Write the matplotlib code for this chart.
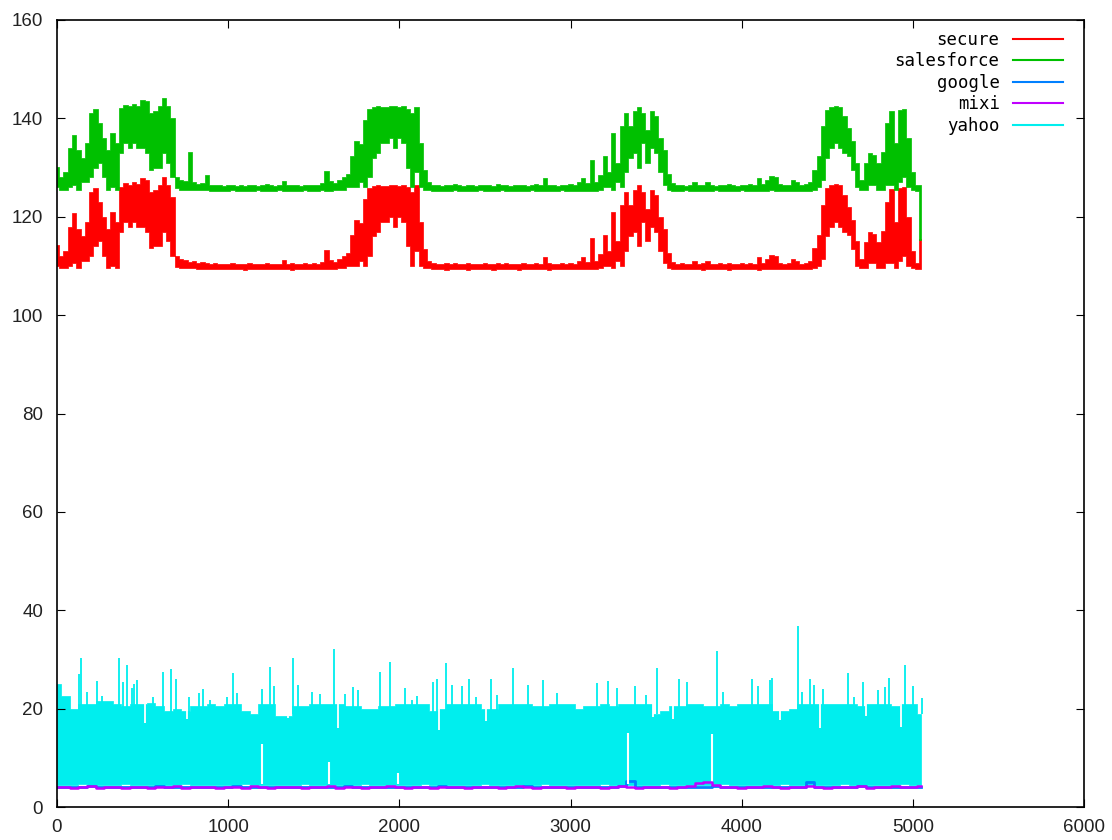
import numpy as np
import matplotlib
matplotlib.use('Agg')
import matplotlib.pyplot as plt
from matplotlib.lines import Line2D

# sample spacing (x units) of the envelopes
step_top = 25   # secure / salesforce
step_low = 50   # google / mixi / yahoo

# secure: lower and upper edge of the trace in each 25-wide slot
secure_lo = [
    110.0, 109.5, 109.5, 110.0, 110.5, 109.5, 111.0, 111.0, 112.0, 114.0,
    115.0, 112.0, 109.5, 110.0, 109.5, 117.0, 119.0, 118.0, 119.0, 118.0,
    118.0, 117.0, 113.6, 114.0, 114.0, 117.0, 115.0, 112.0, 109.8, 109.5,
    109.5, 109.5, 109.5, 109.4, 109.4, 109.4, 109.3, 109.3, 109.3, 109.3,
    109.3, 109.4, 109.3, 109.3, 109.2, 109.3, 109.3, 109.4, 109.3, 109.3,
    109.3, 109.3, 109.4, 109.3, 109.3, 109.2, 109.3, 109.3, 109.4, 109.3,
    109.3, 109.3, 109.4, 109.3, 109.3, 109.4, 109.5, 109.5, 110.0, 110.0,
    110.0, 111.0, 110.0, 112.0, 116.0, 117.0, 119.0, 119.0, 120.0, 118.0,
    120.0, 119.0, 114.0, 110.0, 113.0, 110.0, 109.5, 109.5, 109.3, 109.3,
    109.3, 109.2, 109.3, 109.4, 109.3, 109.3, 109.2, 109.3, 109.3, 109.4,
    109.3, 109.3, 109.2, 109.3, 109.4, 109.3, 109.3, 109.3, 109.2, 109.3,
    109.3, 109.4, 109.3, 109.3, 109.3, 109.2, 109.3, 109.3, 109.4, 109.3,
    109.3, 109.3, 109.3, 109.3, 109.3, 109.3, 109.3, 109.5, 110.0, 110.0,
    109.5, 111.0, 110.0, 113.0, 116.0, 117.0, 114.0, 119.0, 115.0, 118.0,
    117.0, 113.0, 110.5, 109.5, 109.3, 109.3, 109.3, 109.4, 109.3, 109.3,
    109.3, 109.2, 109.3, 109.3, 109.4, 109.3, 109.3, 109.2, 109.3, 109.3,
    109.4, 109.3, 109.3, 109.3, 109.2, 109.3, 109.3, 109.4, 109.3, 109.3,
    109.3, 109.3, 109.3, 109.3, 109.3, 109.3, 109.3, 109.5, 110.0, 111.5,
    116.0, 118.0, 119.0, 118.0, 117.0, 116.3, 113.5, 110.0, 109.5, 109.5,
    110.5, 110.5, 109.5, 109.5, 110.5, 110.5, 109.5, 111.0, 112.0, 110.0,
    109.5, 109.3, 109.3,
]
secure_hi = [
    114.2, 112.0, 113.0, 118.0, 120.7, 117.6, 116.0, 119.0, 125.1, 125.9,
    123.0, 120.0, 117.6, 121.0, 119.0, 126.1, 126.8, 126.5, 127.0, 126.6,
    127.8, 127.5, 125.0, 125.5, 126.5, 128.1, 126.5, 124.0, 112.0, 111.5,
    111.2, 110.8, 111.0, 110.6, 110.8, 110.5, 110.4, 110.5, 110.4, 110.3,
    110.4, 110.5, 110.3, 110.4, 110.3, 110.5, 110.4, 110.3, 110.4, 110.6,
    110.4, 110.3, 110.4, 111.3, 110.4, 110.5, 110.4, 110.3, 110.5, 110.4,
    110.5, 110.4, 110.8, 113.2, 111.2, 110.8, 111.5, 112.0, 112.6, 116.3,
    119.3, 118.7, 123.7, 125.9, 126.3, 126.5, 126.3, 126.3, 126.5, 126.5,
    126.3, 126.5, 126.0, 125.0, 126.4, 119.0, 113.5, 111.0, 110.5, 110.4,
    110.3, 110.5, 110.4, 110.6, 110.4, 110.3, 110.5, 110.4, 110.3, 110.4,
    110.5, 110.4, 110.3, 110.6, 110.4, 110.5, 110.3, 110.4, 110.4, 110.5,
    110.3, 110.4, 110.6, 110.4, 111.8, 110.5, 110.4, 110.3, 110.5, 110.4,
    110.6, 110.4, 111.0, 111.9, 110.8, 115.6, 111.0, 112.5, 116.3, 113.0,
    121.0, 115.0, 122.4, 125.1, 122.4, 125.5, 126.4, 125.1, 121.6, 125.4,
    124.4, 120.0, 117.6, 112.6, 110.8, 110.4, 110.5, 110.3, 110.4, 111.0,
    110.4, 110.5, 111.0, 110.4, 110.3, 110.5, 110.4, 110.6, 110.4, 110.3,
    110.5, 110.4, 110.6, 110.4, 111.9, 110.6, 111.5, 112.2, 112.0, 110.6,
    110.4, 110.5, 111.5, 111.0, 110.4, 110.6, 111.0, 113.6, 116.3, 122.4,
    125.8, 126.4, 126.6, 126.4, 124.5, 122.0, 119.3, 115.0, 111.5, 114.9,
    116.9, 116.5, 114.9, 117.2, 123.0, 125.6, 119.0, 125.8, 126.0, 120.0,
    113.0, 110.5, 115.5,
]

# salesforce
salesforce_lo = [
    126.0, 125.5, 125.5, 126.0, 126.5, 125.5, 127.0, 127.0, 128.0, 130.0,
    131.0, 128.0, 125.5, 126.0, 125.5, 133.0, 135.0, 134.0, 135.0, 134.0,
    134.0, 133.0, 129.6, 130.0, 130.0, 133.0, 131.0, 128.0, 125.8, 125.5,
    125.5, 125.5, 125.5, 125.4, 125.4, 125.4, 125.3, 125.3, 125.3, 125.3,
    125.3, 125.4, 125.3, 125.3, 125.2, 125.3, 125.3, 125.4, 125.3, 125.3,
    125.3, 125.3, 125.4, 125.3, 125.3, 125.2, 125.3, 125.3, 125.4, 125.3,
    125.3, 125.3, 125.4, 125.3, 125.3, 125.4, 125.5, 125.5, 126.0, 126.0,
    126.0, 127.0, 126.0, 128.0, 132.0, 133.0, 135.0, 135.0, 136.0, 134.0,
    136.0, 135.0, 130.0, 126.0, 129.0, 126.0, 125.5, 125.5, 125.3, 125.3,
    125.3, 125.2, 125.3, 125.4, 125.3, 125.3, 125.2, 125.3, 125.3, 125.4,
    125.3, 125.3, 125.2, 125.3, 125.4, 125.3, 125.3, 125.3, 125.2, 125.3,
    125.3, 125.4, 125.3, 125.3, 125.3, 125.2, 125.3, 125.3, 125.4, 125.3,
    125.3, 125.3, 125.3, 125.3, 125.3, 125.3, 125.3, 125.5, 126.0, 126.0,
    125.5, 127.0, 126.0, 129.0, 132.0, 133.0, 130.0, 135.0, 131.0, 134.0,
    133.0, 129.0, 126.5, 125.5, 125.3, 125.3, 125.3, 125.4, 125.3, 125.3,
    125.3, 125.2, 125.3, 125.3, 125.4, 125.3, 125.3, 125.2, 125.3, 125.3,
    125.4, 125.3, 125.3, 125.3, 125.2, 125.3, 125.3, 125.4, 125.3, 125.3,
    125.3, 125.3, 125.3, 125.3, 125.3, 125.3, 125.3, 125.5, 126.0, 127.5,
    132.0, 134.0, 135.0, 134.0, 133.0, 132.3, 129.5, 126.0, 125.5, 125.5,
    126.5, 126.5, 125.5, 125.5, 126.5, 126.5, 125.5, 127.0, 128.0, 126.0,
    125.5, 125.3, 115.3,
]
salesforce_hi = [
    130.2, 128.0, 129.0, 134.0, 136.7, 133.6, 132.0, 135.0, 141.1, 141.9,
    139.0, 136.0, 133.6, 137.0, 135.0, 142.1, 142.8, 142.5, 143.0, 142.6,
    143.8, 143.5, 141.0, 141.5, 142.5, 144.1, 142.5, 140.0, 128.0, 127.5,
    127.2, 133.1, 127.0, 126.6, 126.8, 128.5, 126.4, 126.5, 126.4, 126.3,
    126.4, 126.5, 126.3, 126.4, 126.3, 126.5, 126.4, 126.3, 126.4, 126.6,
    126.4, 126.3, 126.4, 127.3, 126.4, 126.5, 126.4, 126.3, 126.5, 126.4,
    126.5, 126.4, 126.8, 129.2, 127.2, 126.8, 127.5, 128.0, 128.6, 132.3,
    135.3, 134.7, 139.7, 141.9, 142.3, 142.5, 142.3, 142.3, 142.5, 142.5,
    142.3, 142.5, 142.0, 141.0, 142.4, 135.0, 129.5, 127.0, 126.5, 126.4,
    126.3, 126.5, 126.4, 126.6, 126.4, 126.3, 126.5, 126.4, 126.3, 126.4,
    126.5, 126.4, 126.3, 126.6, 126.4, 126.5, 126.3, 126.4, 126.4, 126.5,
    126.3, 126.4, 126.6, 126.4, 127.8, 126.5, 126.4, 126.3, 126.5, 126.4,
    126.6, 126.4, 127.0, 127.9, 126.8, 131.6, 127.0, 128.5, 132.3, 129.0,
    137.0, 131.0, 138.4, 141.1, 138.4, 141.5, 142.4, 141.1, 137.6, 141.4,
    140.4, 136.0, 133.6, 128.6, 126.8, 126.4, 126.5, 126.3, 126.4, 127.0,
    126.4, 126.5, 127.0, 126.4, 126.3, 126.5, 126.4, 126.6, 126.4, 126.3,
    126.5, 126.4, 126.6, 126.4, 127.9, 126.6, 127.5, 128.2, 128.0, 126.6,
    126.4, 126.5, 127.5, 127.0, 126.4, 126.6, 127.0, 129.6, 132.3, 138.4,
    141.8, 142.4, 142.6, 142.4, 140.5, 138.0, 135.3, 131.0, 127.5, 130.9,
    132.9, 132.5, 130.9, 133.2, 139.0, 141.6, 135.0, 141.8, 142.0, 136.0,
    129.0, 126.5, 126.4,
]

# yahoo: dense band, with thin spikes above it, thin notches and bottom gaps
yahoo_lo = [
    4.4, 4.5, 4.5, 4.6, 4.5, 4.5, 4.4, 4.5, 4.6, 4.5,
    4.5, 4.5, 4.4, 4.5, 4.5, 4.6, 4.5, 4.5, 4.5, 4.4,
    4.5, 4.5, 4.6, 4.5, 4.5, 4.4, 4.5, 4.5, 4.5, 4.6,
    4.5, 4.5, 4.4, 4.5, 4.5, 4.5, 4.6, 4.5, 4.5, 4.4,
    4.5, 4.5, 4.5, 4.6, 4.5, 4.5, 4.4, 4.5, 4.5, 4.5,
    4.6, 4.5, 4.5, 4.4, 4.5, 4.5, 4.5, 4.6, 4.5, 4.5,
    4.4, 4.5, 4.5, 4.5, 4.6, 4.5, 4.5, 4.4, 4.5, 4.5,
    4.5, 4.6, 4.5, 4.5, 4.4, 4.5, 4.5, 4.5, 4.6, 4.5,
    4.5, 4.4, 4.5, 4.5, 4.5, 4.6, 4.5, 4.5, 4.4, 4.5,
    4.5, 4.5, 4.6, 4.5, 4.5, 4.4, 4.5, 4.5, 4.5, 4.6,
    4.5, 4.5,
]
yahoo_hi = [
    25.0, 22.5, 20.0, 21.0, 21.0, 21.5, 21.5, 21.0, 20.5, 21.0,
    21.0, 21.2, 20.5, 19.5, 20.0, 19.5, 20.5, 20.5, 21.0, 20.5,
    21.0, 21.0, 19.5, 19.0, 21.0, 21.0, 18.5, 18.5, 20.5, 20.5,
    21.0, 21.0, 21.0, 21.0, 20.5, 20.5, 20.0, 20.0, 20.5, 20.5,
    21.0, 21.0, 21.0, 21.0, 19.5, 20.0, 21.0, 21.0, 21.0, 21.0,
    20.0, 20.0, 21.0, 21.0, 21.0, 21.0, 20.5, 20.5, 21.0, 21.0,
    21.0, 20.0, 20.5, 20.5, 21.0, 20.5, 21.0, 21.0, 21.0, 21.0,
    19.0, 19.5, 20.5, 20.5, 21.0, 21.0, 20.5, 20.5, 21.0, 20.5,
    21.0, 21.0, 21.0, 21.0, 19.5, 19.5, 20.0, 21.0, 21.0, 21.0,
    21.0, 21.0, 21.0, 21.0, 20.5, 21.0, 21.0, 21.0, 20.5, 21.0,
    21.0, 19.0,
]
yahoo_spike_x = [
    128, 140, 177, 232, 262, 364, 387, 407, 436, 450, 469, 563, 617, 666,
    695, 773, 829, 855, 894, 991, 1030, 1053, 1196, 1244, 1268, 1380, 1410,
    1487, 1536, 1620, 1682, 1731, 1760, 1887, 1945, 2033, 2072, 2101, 2198,
    2218, 2272, 2305, 2364, 2407, 2447, 2533, 2572, 2665, 2753, 2841, 2919,
    3152, 3220, 3269, 3376, 3444, 3503, 3635, 3678, 3853, 3892, 4058, 4096,
    4165, 4180, 4330, 4350, 4402, 4424, 4476, 4622, 4655, 4710, 4797, 4836,
    4862, 4953, 5002, 5056,
]
yahoo_spike_y = [
    27.0, 30.2, 23.4, 25.6, 22.5, 30.2, 25.5, 28.9, 24.1, 25.1, 25.9, 22.4,
    27.4, 28.1, 26.0, 22.4, 23.1, 23.9, 21.7, 22.3, 27.2, 23.1, 23.9, 28.5,
    24.5, 30.2, 24.9, 23.3, 23.0, 32.1, 23.0, 24.3, 23.8, 27.5, 29.5, 24.1,
    21.7, 22.5, 25.5, 26.0, 29.3, 24.8, 24.5, 26.0, 22.4, 26.0, 22.8, 28.2,
    24.8, 25.9, 23.1, 25.2, 25.6, 24.1, 24.6, 22.8, 28.2, 26.0, 25.5, 31.8,
    23.4, 26.0, 24.5, 25.8, 26.3, 36.8, 23.4, 26.0, 24.8, 23.9, 27.2, 22.4,
    25.5, 23.7, 24.3, 26.3, 28.9, 24.6, 22.1,
]
yahoo_dip_x = [514, 759, 1351, 1640, 2233, 2509, 3483, 3600, 4224, 4457, 4729, 4928]
yahoo_dip_y = [17.1, 17.9, 18.0, 16.0, 15.6, 17.4, 18.3, 17.9, 17.7, 16.0, 18.4, 16.3]
yahoo_gap_x = [1196, 1589, 1992, 3337, 3824]
yahoo_gap_y = [12.9, 9.1, 6.9, 15.0, 14.9]

mixi = [
    4.0, 4.1, 3.9, 4.0, 4.2, 3.9, 4.0, 4.1, 3.9, 4.0,
    4.1, 3.9, 4.0, 4.0, 4.2, 3.9, 4.0, 4.1, 4.0, 3.9,
    4.0, 4.1, 3.9, 4.2, 4.0, 3.9, 4.0, 4.1, 4.0, 3.9,
    4.1, 4.0, 4.2, 3.9, 4.0, 4.1, 3.9, 4.0, 4.0, 4.2,
    4.0, 3.9, 4.1, 4.0, 3.9, 4.0, 4.1, 4.0, 3.9, 4.0,
    4.1, 4.0, 3.9, 4.0, 4.2, 4.0, 3.9, 4.1, 4.0, 4.0,
    3.9, 4.1, 4.0, 4.0, 3.9, 4.1, 4.2, 4.0, 3.9, 4.0,
    4.1, 4.0, 3.9, 4.0, 4.3, 4.8, 5.0, 4.4, 4.1, 4.0,
    3.9, 4.1, 4.0, 4.2, 4.0, 3.9, 4.0, 4.1, 4.2, 4.0,
    3.9, 4.1, 4.0, 4.0, 4.2, 3.9, 4.1, 4.0, 4.2, 4.1,
    4.0, 4.2,
]
google = [
    4.1, 4.1, 4.0, 4.1, 4.2, 4.1, 4.0, 4.1, 4.1, 4.0,
    4.1, 4.1, 4.2, 4.1, 4.0, 4.1, 4.1, 4.1, 4.0, 4.1,
    4.1, 4.2, 4.1, 4.1, 4.0, 4.1, 4.1, 4.0, 4.1, 4.1,
    4.1, 4.0, 4.1, 4.1, 4.2, 4.1, 4.1, 4.0, 4.1, 4.1,
    4.1, 4.1, 4.0, 4.1, 4.1, 4.2, 4.1, 4.0, 4.1, 4.1,
    4.1, 4.0, 4.1, 4.1, 4.1, 4.2, 4.1, 4.0, 4.1, 4.1,
    4.1, 4.1, 4.0, 4.1, 4.1, 4.1, 4.2, 5.3, 4.1, 4.1,
    4.0, 4.1, 4.1, 4.1, 4.0, 4.1, 4.1, 4.2, 4.1, 4.1,
    4.0, 4.1, 4.1, 4.1, 4.1, 4.0, 4.1, 4.1, 5.0, 4.1,
    4.1, 4.0, 4.1, 4.1, 4.2, 4.1, 4.1, 4.0, 4.1, 4.1,
    4.1, 4.1,
]

names = ['secure', 'salesforce', 'google', 'mixi', 'yahoo']
colors = ['#ff0000', '#00c000', '#0080ff', '#c000ff', '#00eeee']

x_top = np.arange(len(secure_hi)) * step_top
x_low = np.arange(len(yahoo_hi)) * step_low

fig = plt.figure(figsize=(11.12, 8.4), dpi=100)
ax = fig.add_axes([57 / 1112, 33 / 840, 1027 / 1112, 787 / 840])

ax.plot(x_low, google, color=colors[2], lw=2.0, drawstyle='steps-mid')

# yahoo band and its thin details
ax.fill_between(x_low, yahoo_lo, yahoo_hi, step='mid', color=colors[4], lw=0.5)
ax.vlines(yahoo_spike_x, 19, yahoo_spike_y, color=colors[4], lw=1.3)
ax.vlines(yahoo_dip_x, yahoo_dip_y, 21.3, color='white', lw=1.3)
ax.vlines(yahoo_gap_x, 4.7, yahoo_gap_y, color='white', lw=1.5)

ax.plot(x_low, mixi, color=colors[3], lw=1.8, drawstyle='steps-mid')

ax.fill_between(x_top, secure_lo, secure_hi, step='mid', color=colors[0], lw=0.5)
ax.fill_between(x_top, salesforce_lo, salesforce_hi, step='mid', color=colors[1], lw=0.5)

ax.set_xlim(0, 6000)
ax.set_ylim(0, 160)
ax.set_xticks(range(0, 6001, 1000))
ax.set_yticks(range(0, 161, 20))
ax.tick_params(direction='in', length=5.8, width=0.8, top=True, right=True,
               labelsize=13.5, labelcolor='#222222')
ax.tick_params(axis='x', pad=9)
ax.tick_params(axis='y', pad=10)
for lab in ax.get_xticklabels() + ax.get_yticklabels():
    lab.set_fontfamily('Liberation Sans')
for s in ax.spines.values():
    s.set_linewidth(1.2)

handles = [Line2D([], [], color=c, lw=1.5) for c in colors]
ax.legend(handles, names, loc='upper right', bbox_to_anchor=(0.9796, 0.986),
          frameon=False, markerfirst=False, handlelength=2.9, handletextpad=0.75,
          labelspacing=0.2, borderpad=0, borderaxespad=0,
          prop={'family': 'DejaVu Sans Mono', 'size': 12.5})

fig.savefig('out.png', dpi=100)
